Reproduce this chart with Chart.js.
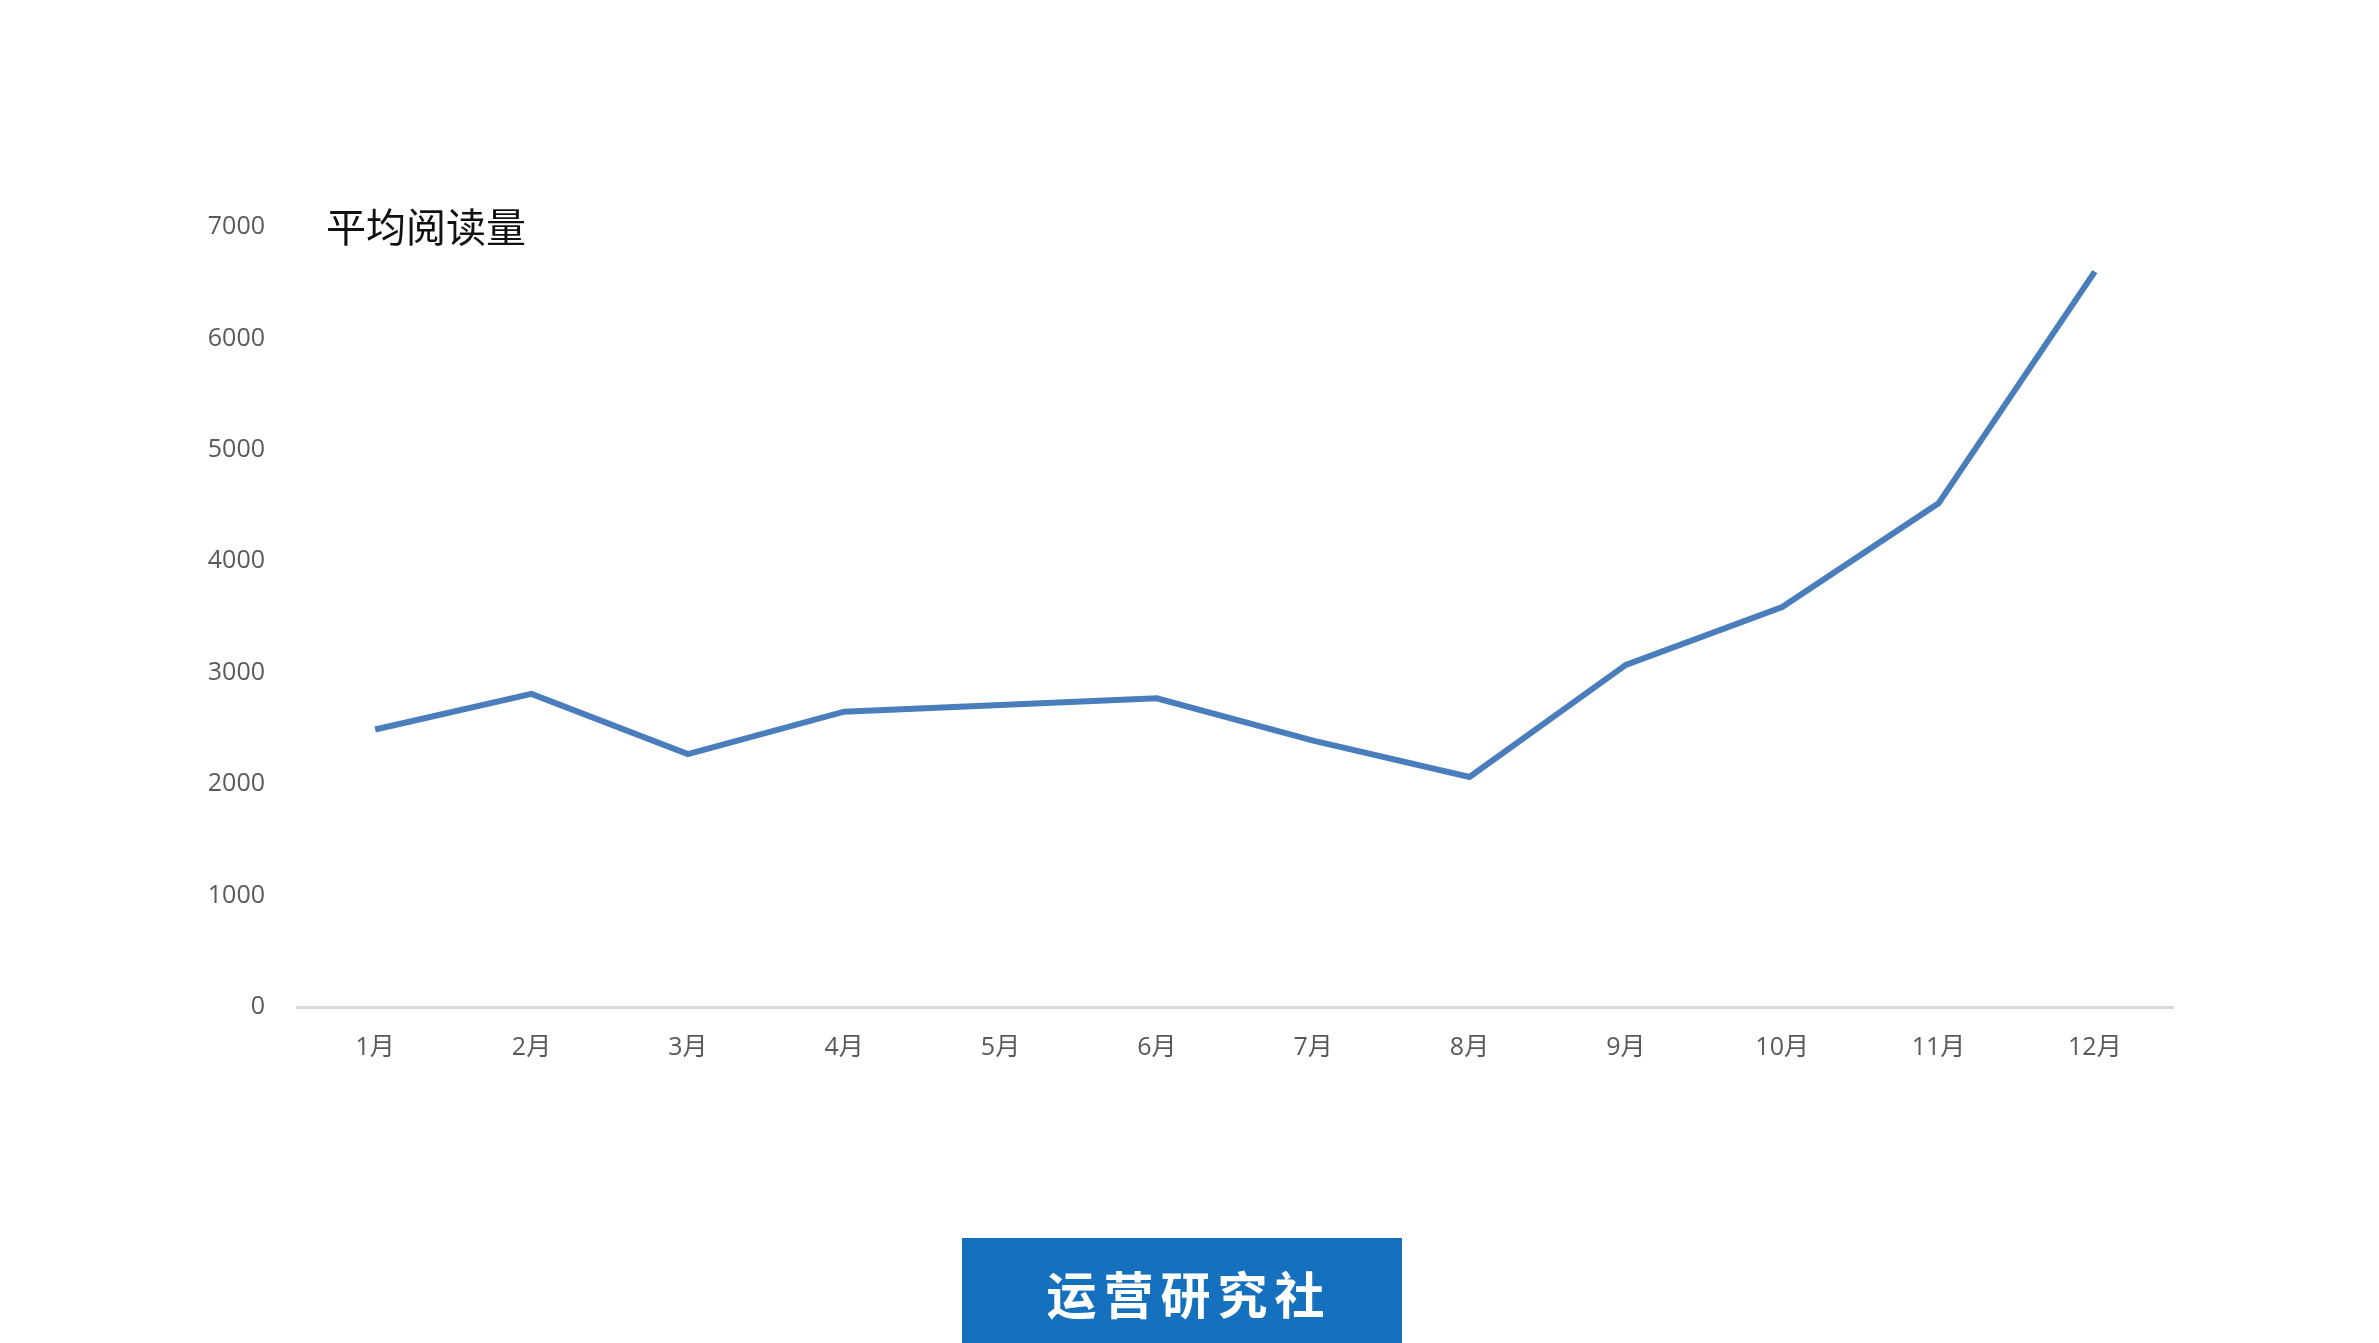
<!DOCTYPE html>
<html>
<head>
<meta charset="utf-8">
<script src="https://cdn.jsdelivr.net/npm/chart.js@4.4.1/dist/chart.umd.min.js"></script>
<style>
  html, body { margin: 0; padding: 0; background: #fff; }
  #wrap { position: relative; width: 2379px; height: 1343px; overflow: hidden; }
  #chart { position: absolute; left: 0; top: 0; }
  #title {
    position: absolute; left: 326px; top: 199px;
    font-family: "Noto Sans CJK SC", sans-serif; font-size: 40px; color: #111;
    line-height: 52px; white-space: nowrap;
  }
  #badge {
    position: absolute; left: 962px; top: 1238px; width: 440px; height: 140px;
    box-sizing: border-box; padding-left: 14px;
    background: #1570be; color: #fff;
    font-family: "Noto Sans CJK SC", sans-serif; font-weight: bold; font-size: 50px;
    letter-spacing: 7px; text-align: center; line-height: 108px;
  }
</style>
</head>
<body>
<div id="wrap">
  <canvas id="chart" width="2379" height="1343"></canvas>
  <div id="title">平均阅读量</div>
  <div id="badge">运营研究社</div>
</div>
<script>
"use strict";

const months = ["1月", "2月", "3月", "4月", "5月", "6月", "7月", "8月", "9月", "10月", "11月", "12月"];
const avgReads = [2490, 2810, 2270, 2650, 2710, 2770, 2390, 2065, 3070, 3590, 4520, 6600];
const yTicks = [0, 1000, 2000, 3000, 4000, 5000, 6000, 7000];

const tickFont = { family: "'Open Sans', 'Noto Sans CJK SC', sans-serif", size: 25 };

function renderChart() {
  const chartArea = document.getElementById("chart");

  const lineData = {
    labels: months,
    datasets: [
      {
        label: "平均阅读量",
        data: avgReads,
        borderColor: "#4a7dbb",
        backgroundColor: "#4a7dbb",
        borderWidth: 6,
        pointRadius: 0,
        tension: 0,
        fill: false,
      },
    ],
  };

  new Chart(chartArea, {
    type: "line",
    data: lineData,
    options: {
      responsive: false,
      animation: false,
      devicePixelRatio: 1,
      layout: { padding: { left: 100, right: 206, top: 227, bottom: 256 } },
      plugins: { legend: { display: false }, tooltip: { enabled: false } },
      scales: {
        x: {
          offset: true,
          grid: { display: false, drawTicks: false, tickLength: 0 },
          border: { display: true, color: "#d9d9d9", width: 3 },
          ticks: { color: "#595959", font: tickFont, padding: 26, maxRotation: 0 },
          afterFit: (scale) => { scale.height = 80; },
        },
        y: {
          min: 0,
          max: 7000,
          afterBuildTicks: (scale) => { scale.ticks = yTicks.map((v) => ({ value: v })); },
          grid: { display: false, drawTicks: false, tickLength: 0 },
          border: { display: false },
          ticks: { color: "#595959", font: tickFont, padding: 32, callback: (v) => String(v) },
          afterFit: (scale) => { scale.width = 197; },
        },
      },
    },
  });
}

renderChart();
</script>
</body>
</html>
